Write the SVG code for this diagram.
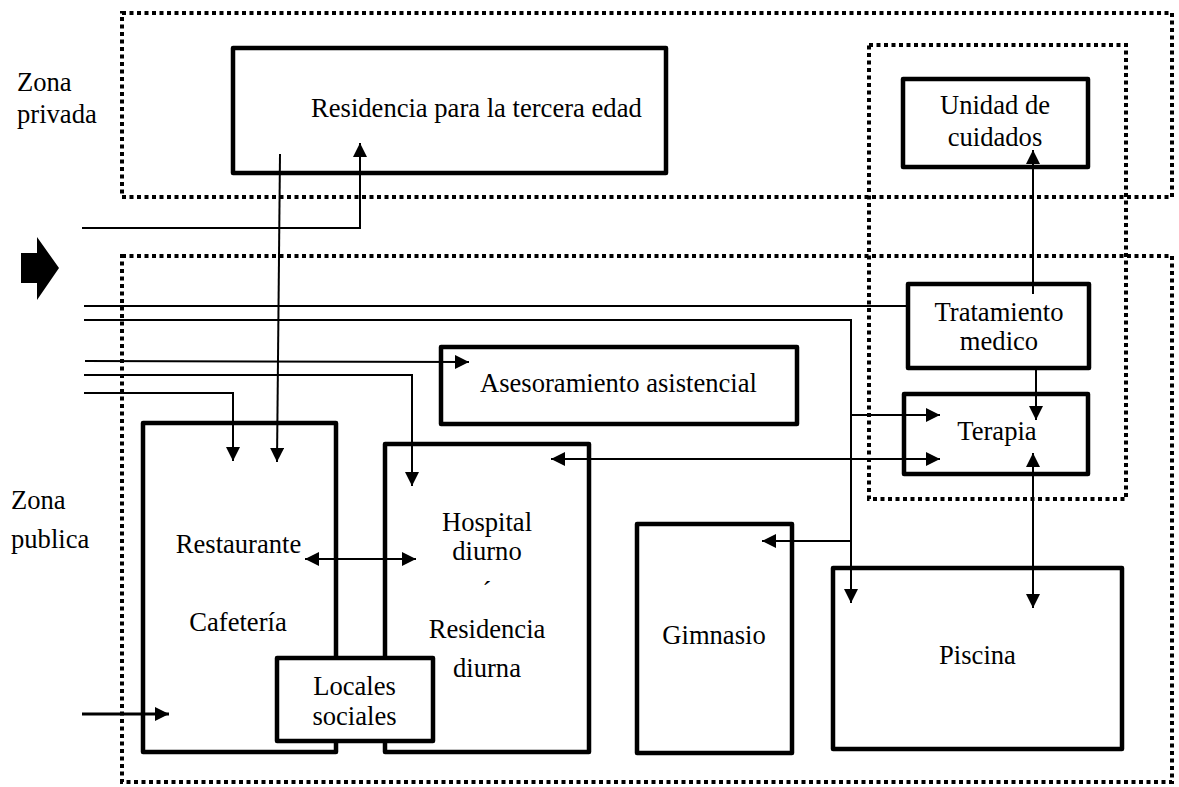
<svg xmlns="http://www.w3.org/2000/svg" width="1179" height="787" viewBox="0 0 1179 787" font-family="Liberation Serif, DejaVu Serif, serif">
<defs>
<style>
.zone{fill:none;stroke:#000;stroke-width:4;stroke-dasharray:4 3.5}
.box{fill:none;stroke:#000;stroke-width:4.5;stroke-linejoin:round}
.boxw{fill:#fff;stroke:#000;stroke-width:4.5;stroke-linejoin:round}
.t{font-family:'Liberation Serif',serif;font-size:26.6px;fill:#000}
.c{text-anchor:middle}
.ln{fill:none;stroke:#000;stroke-width:2}
</style>
<marker id="ah" markerUnits="userSpaceOnUse" markerWidth="15" markerHeight="14" refX="14" refY="7" orient="auto-start-reverse">
<path d="M0,0 L14,7 L0,14 z" fill="#000"/>
</marker>
</defs>
<rect width="1179" height="787" fill="#fff"/>
<g id="zona-privada">
<rect class="zone" x="122" y="13" width="1050" height="184"/>
<text class="t" x="17" y="91">Zona</text>
<text class="t" x="17" y="123">privada</text>
</g>
<g id="zona-publica">
<rect class="zone" x="122" y="256" width="1050" height="526"/>
<text class="t" x="11" y="509">Zona</text>
<text class="t" x="11" y="548">publica</text>
</g>
<g id="zona-medica">
<rect class="zone" x="869" y="45" width="257" height="454"/>
</g>
<g id="entrada">
<polygon points="21,253 37,253 37,237 59,268 37,300 37,283 21,283" fill="#000"/>
</g>
<g id="residencia">
<rect class="box" x="233" y="48" width="433" height="125"/>
<text class="t" x="311" y="117">Residencia para la tercera edad</text>
</g>
<g id="unidad-cuidados">
<rect class="box" x="903" y="79" width="185" height="88"/>
<text class="t c" x="995" y="114">Unidad de</text>
<text class="t c" x="995" y="146">cuidados</text>
</g>
<g id="tratamiento">
<rect class="box" x="908" y="284" width="181" height="84"/>
<text class="t c" x="999" y="321">Tratamiento</text>
<text class="t c" x="999" y="350">medico</text>
</g>
<g id="terapia">
<rect class="box" x="904" y="394" width="184" height="80"/>
<text class="t c" x="997" y="440">Terapia</text>
</g>
<g id="asesoramiento">
<rect class="box" x="441" y="347" width="356" height="77"/>
<text class="t" x="480" y="392">Asesoramiento asistencial</text>
</g>
<g id="restaurante">
<rect class="box" x="143" y="423" width="193" height="329"/>
<text class="t c" x="238.5" y="553">Restaurante</text>
<text class="t c" x="238" y="631">Cafetería</text>
</g>
<g id="hospital">
<rect class="box" x="385" y="444" width="204" height="308"/>
<text class="t c" x="487" y="531">Hospital</text>
<text class="t c" x="487" y="560">diurno</text>
<text class="t c" x="487" y="600">´</text>
<text class="t c" x="487" y="638">Residencia</text>
<text class="t c" x="487" y="677">diurna</text>
</g>
<g id="locales">
<rect class="boxw" x="277" y="658" width="156" height="83"/>
<text class="t c" x="354.5" y="695">Locales</text>
<text class="t c" x="354.5" y="725">sociales</text>
</g>
<g id="gimnasio">
<rect class="box" x="637" y="524" width="155" height="229"/>
<text class="t c" x="714" y="644">Gimnasio</text>
</g>
<g id="piscina">
<rect class="box" x="833" y="568" width="289" height="181"/>
<text class="t c" x="977.5" y="664">Piscina</text>
</g>
<g id="connectors">
<polyline class="ln" points="82,228 360,228 360,143" marker-end="url(#ah)"/>
<line class="ln" x1="280" y1="154" x2="277" y2="462" marker-end="url(#ah)"/>
<line class="ln" x1="84" y1="306" x2="908" y2="306"/>
<polyline class="ln" points="84,320 851,320 851,603" marker-end="url(#ah)"/>
<line class="ln" x1="851" y1="415" x2="940" y2="415" marker-end="url(#ah)"/>
<line class="ln" x1="851" y1="541" x2="762" y2="541" marker-end="url(#ah)"/>
<line class="ln" x1="551" y1="459" x2="940" y2="459" marker-start="url(#ah)" marker-end="url(#ah)"/>
<line class="ln" x1="85" y1="361" x2="469" y2="362" marker-end="url(#ah)"/>
<polyline class="ln" points="84,375 412,375 412,486" marker-end="url(#ah)"/>
<polyline class="ln" points="84,393 233,393 233,461" marker-end="url(#ah)"/>
<line class="ln" x1="305" y1="559" x2="416" y2="559" marker-start="url(#ah)" marker-end="url(#ah)"/>
<line class="ln" x1="82" y1="714" x2="169" y2="714" style="stroke-width:3" marker-end="url(#ah)"/>
<line class="ln" x1="1033" y1="294" x2="1033" y2="150" marker-end="url(#ah)"/>
<line class="ln" x1="1036" y1="368" x2="1036" y2="420" marker-end="url(#ah)"/>
<line class="ln" x1="1033" y1="453" x2="1033" y2="608" marker-start="url(#ah)" marker-end="url(#ah)"/>
</g>
</svg>
